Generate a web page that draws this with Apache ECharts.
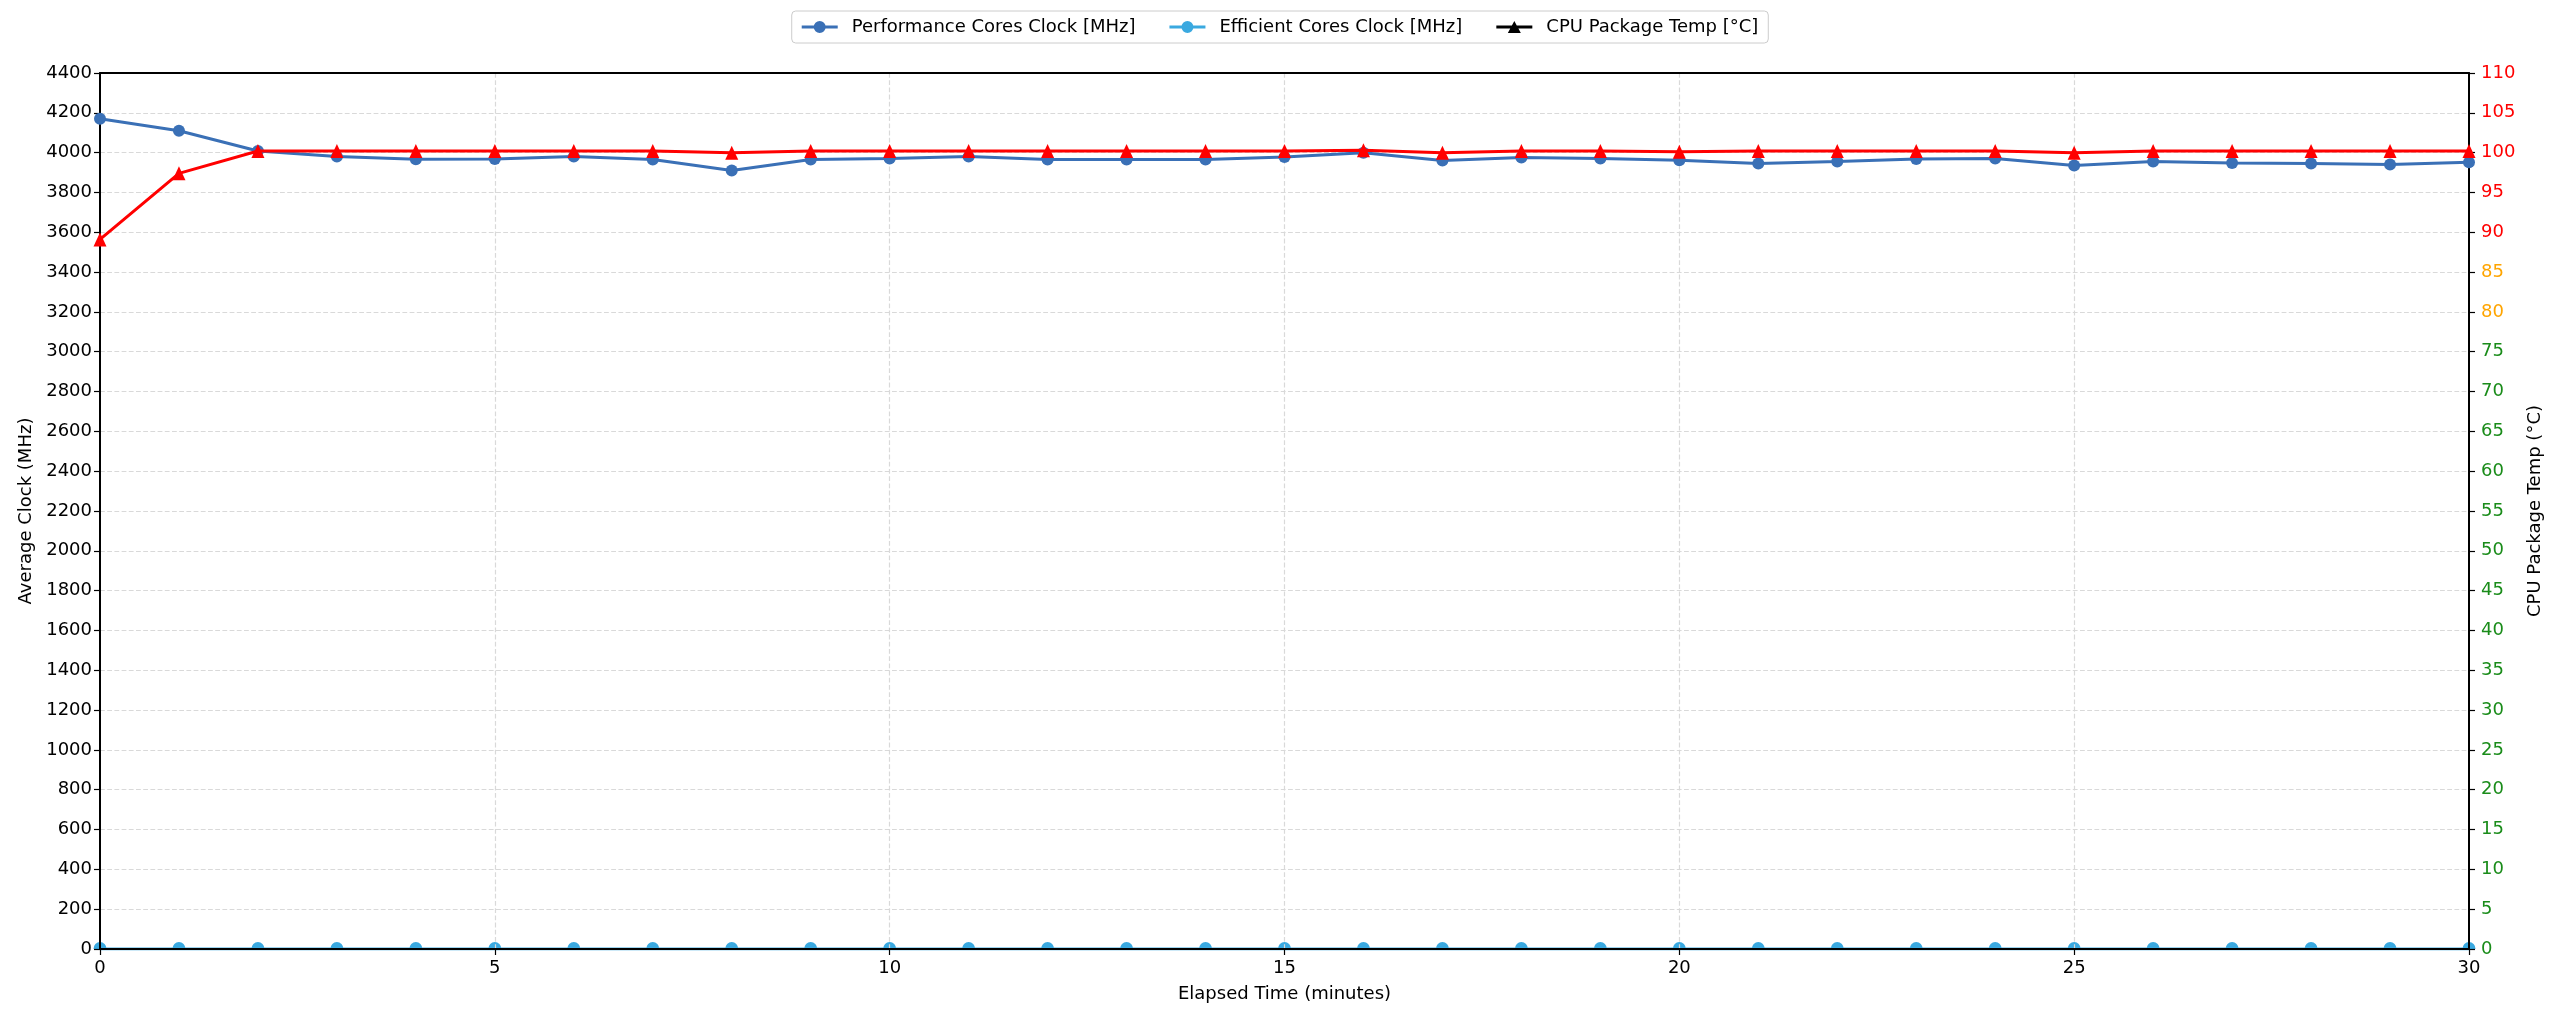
<!DOCTYPE html>
<html>
<head>
<meta charset="utf-8">
<script src="https://cdn.jsdelivr.net/npm/echarts@6/dist/echarts.min.js"></script>
<style>
  html, body { margin: 0; padding: 0; background: #fff; }
  #chart { width: 2560px; height: 1024px; }
</style>
</head>
<body>
<div id="chart"></div>
<script>
const minutes = [0,1,2,3,4,5,6,7,8,9,10,11,12,13,14,15,16,17,18,19,20,21,22,23,24,25,26,27,28,29,30];
const perfClock = [4170,4110,4008,3980,3967,3968,3980,3966,3910,3966,3970,3980,3966,3966,3966,3978,4000,3960,3976,3970,3962,3945,3955,3968,3970,3935,3955,3948,3945,3940,3952];
const effClock = [0,0,0,0,0,0,0,0,0,0,0,0,0,0,0,0,0,0,0,0,0,0,0,0,0,0,0,0,0,0,0];
const pkgTemp = [89.1,97.4,100.2,100.2,100.2,100.2,100.2,100.2,100.0,100.2,100.2,100.2,100.2,100.2,100.2,100.2,100.3,100.0,100.2,100.2,100.1,100.2,100.2,100.2,100.2,100.0,100.2,100.2,100.2,100.2,100.2];
const clockTicks = {min: 0, max: 4400, interval: 200};
const tempTicks = {min: 0, max: 110, interval: 5};
const timeTicks = {min: 0, max: 30, interval: 5};

const pair = (xs, ys) => xs.map((x, i) => [x, ys[i]]);
const FONT = 'DejaVu Sans';
const PERF = '#3a70b6';
const EFF = '#3aa9e0';
const TEMP = '#ff0000';

// legend handle shapes: short line with marker in the middle
const ICON_LINE_CIRCLE = 'path://M0,4.6 H36 V7.4 H0 Z M12,6 A6,6 0 1 1 24,6 A6,6 0 1 1 12,6 Z';
const ICON_LINE_TRI = 'path://M0,4.6 H36 V7.4 H0 Z M11.5,12 L18,0 L24.5,12 Z';

const chart = echarts.init(document.getElementById('chart'));
chart.setOption({
  animation: false,
  backgroundColor: '#ffffff',
  textStyle: { fontFamily: FONT },
  legend: {
    top: 11,
    left: 'center',
    itemWidth: 36,
    itemHeight: 12,
    itemGap: 34,
    padding: [7, 10],
    borderColor: '#cccccc',
    borderWidth: 1,
    borderRadius: 4,
    textStyle: { fontFamily: FONT, fontSize: 18, color: '#000', padding: [2, 0, 0, 9] },
    data: [
      { name: 'Performance Cores Clock [MHz]', icon: ICON_LINE_CIRCLE },
      { name: 'Efficient Cores Clock [MHz]', icon: ICON_LINE_CIRCLE },
      { name: 'CPU Package Temp [°C]', icon: ICON_LINE_TRI, itemStyle: { color: '#000' } }
    ]
  },
  grid: {
    left: 100, right: 91, top: 73, bottom: 75,
    show: false
  },
  xAxis: [
    {
      type: 'value',
      min: timeTicks.min, max: timeTicks.max, interval: timeTicks.interval,
      z: 8,
      name: 'Elapsed Time (minutes)',
      nameLocation: 'middle',
      nameGap: 36,
      nameTextStyle: { fontFamily: FONT, fontSize: 18, color: '#000' },
      axisLine: { show: true, onZero: false, lineStyle: { color: '#000', width: 2 } },
      axisTick: { show: true, length: 6, lineStyle: { color: '#000', width: 1.2 } },
      axisLabel: { fontFamily: FONT, fontSize: 18, color: '#000', margin: 10 },
      splitLine: { show: true, showMinLine: false, showMaxLine: false, lineStyle: { type: 'dashed', color: '#d9d9d9', width: 1.2 } }
    },
    {
      // top frame line of the plot box
      type: 'value',
      position: 'top',
      min: timeTicks.min, max: timeTicks.max, interval: timeTicks.interval,
      z: 9,
      axisLine: { show: true, onZero: false, lineStyle: { color: '#000', width: 2 } },
      axisTick: { show: false },
      axisLabel: { show: false },
      splitLine: { show: false }
    }
  ],
  yAxis: [
    {
      type: 'value',
      min: clockTicks.min, max: clockTicks.max, interval: clockTicks.interval,
      z: 7,
      name: 'Average Clock (MHz)',
      nameLocation: 'middle',
      nameGap: 52,
      nameTextStyle: { fontFamily: FONT, fontSize: 18, color: '#000' },
      axisLine: { show: true, onZero: false, lineStyle: { color: '#000', width: 2 } },
      axisTick: { show: true, length: 6, lineStyle: { color: '#000', width: 1.2 } },
      axisLabel: { fontFamily: FONT, fontSize: 18, color: '#000', margin: 8, formatter: v => String(v) },
      splitLine: { show: true, showMinLine: false, showMaxLine: false, lineStyle: { type: 'dashed', color: '#d9d9d9', width: 1.2 } }
    },
    {
      type: 'value',
      position: 'right',
      min: tempTicks.min, max: tempTicks.max, interval: tempTicks.interval,
      z: 9,
      name: 'CPU Package Temp (°C)',
      nameLocation: 'middle',
      nameGap: 50,
      nameRotate: 90,
      nameTextStyle: { fontFamily: FONT, fontSize: 18, color: '#000' },
      axisLine: { show: true, onZero: false, lineStyle: { color: '#000', width: 2 } },
      axisTick: { show: true, length: 6, lineStyle: { color: '#000', width: 1.2 } },
      axisLabel: {
        fontFamily: FONT, fontSize: 18, margin: 12,
        formatter: v => String(v),
        color: function (v) {
          v = Number(v);
          if (v >= 90) return '#ff0000';
          if (v >= 80) return '#ffa500';
          return '#1a8c1a';
        }
      },
      splitLine: { show: false }
    }
  ],
  series: [
    {
      name: 'Performance Cores Clock [MHz]',
      type: 'line',
      xAxisIndex: 0,
      yAxisIndex: 0,
      data: pair(minutes, perfClock),
      symbol: 'circle',
      symbolSize: 12,
      lineStyle: { color: PERF, width: 3 },
      itemStyle: { color: PERF },
      z: 10
    },
    {
      name: 'Efficient Cores Clock [MHz]',
      type: 'line',
      xAxisIndex: 0,
      yAxisIndex: 0,
      data: pair(minutes, effClock),
      symbol: 'path://M0,10 A10,10 0 0 1 20,10 Z',
      symbolSize: [13, 7],
      symbolOffset: [0, -3.5],
      lineStyle: { color: EFF, width: 3 },
      itemStyle: { color: EFF },
      z: 1
    },
    {
      name: 'CPU Package Temp [°C]',
      type: 'line',
      xAxisIndex: 0,
      yAxisIndex: 1,
      data: pair(minutes, pkgTemp),
      symbol: 'triangle',
      symbolSize: [13, 14],
      lineStyle: { color: TEMP, width: 3 },
      itemStyle: { color: TEMP },
      z: 11
    }
  ]
});
</script>
</body>
</html>
